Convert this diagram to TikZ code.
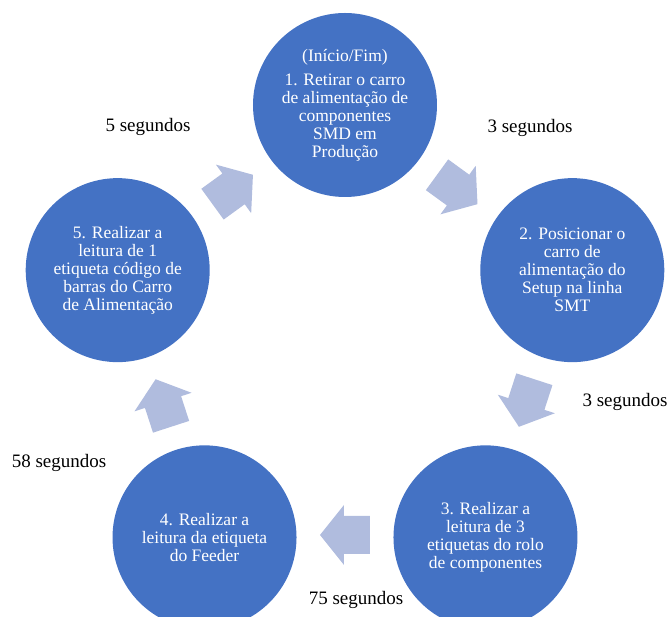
\documentclass[tikz,border=0pt]{standalone}
\usepackage{fontspec}
\setmainfont{Liberation Serif}
\usepackage{xcolor}
\usepackage{tikz}

\definecolor{stageblue}{HTML}{4472C4}
\definecolor{arrowblue}{HTML}{B0BCDE}

\tikzset{
  stage/.style={circle, fill=stageblue, text=white, minimum size=184pt,
    inner sep=0pt, align=center, font=\fontsize{17.5}{18}\selectfont},
  timelabel/.style={inner sep=0pt, font=\fontsize{19}{22}\selectfont}
}

\begin{document}
\begin{tikzpicture}[x=1pt,y=1pt]

\useasboundingbox (-345,-273) rectangle (325,344);

% the five steps of the cycle
\node[stage] (s1) at (90:239) {(Início/Fim)\\[6pt]1. Retirar o carro\\de alimentação de\\componentes\\SMD em\\Produção};
\node[stage] (s2) at (18:239) {2. Posicionar o\\carro de\\alimentação do\\Setup na linha\\SMT};
\node[stage] (s3) at (-54:239) {3. Realizar a\\leitura de 3\\etiquetas do rolo\\de componentes};
\node[stage] (s4) at (234:239) {4. Realizar a\\leitura da etiqueta\\do Feeder};
\node[stage] (s5) at (162:239) {5. Realizar a\\leitura de 1\\etiqueta código de\\barras do Carro\\de Alimentação};

% block arrows between the steps
\foreach \ang in {54,-18,-90,198,126}
  \fill[arrowblue, shift={(\ang:191)}, rotate=\ang-90]
    (-25,-19) -- (1,-19) -- (1,-30) -- (25,0) -- (1,30) -- (1,19) -- (-25,19) -- cycle;

% times
\node[timelabel] (t51) at (-197,217) {5 segundos};
\node[timelabel] (t12) at (185,216) {3 segundos};
\node[timelabel] (t23) at (280,-58) {3 segundos};
\node[timelabel] (t45) at (-286,-119) {58 segundos};
\node[timelabel] (t34) at (11,-256) {75 segundos};

\end{tikzpicture}
\end{document}
